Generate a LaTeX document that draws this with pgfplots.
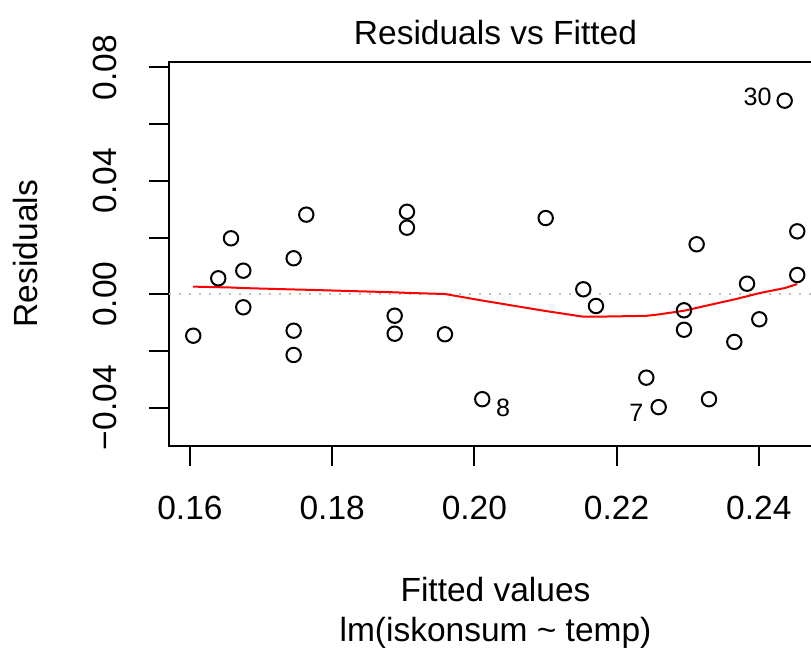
\documentclass[border=0pt]{standalone}
\usepackage{fontspec}
\setmainfont{Liberation Sans}
\usepackage{pgfplots}
\pgfplotsset{compat=1.18}
\newcommand\rf{\fontsize{16.75}{20}\selectfont}
\newcommand\idf{\fontsize{12.56}{15}\selectfont}
\definecolor{rgray}{HTML}{BEBEBE}
\begin{document}
\begin{tikzpicture}
\begin{axis}[
  at={(0,0)}, anchor=south west,
  scale only axis, width=326.5pt, height=192pt,
  xmin=0.15705, xmax=0.24889, ymin=-0.0534, ymax=0.08205,
  axis line style={line width=1pt},
  tick style={line width=1pt, black},
  tick align=outside, major tick length=10pt,
  xtick pos=left, ytick pos=left,
  scaled x ticks=false, scaled y ticks=false,
  xtick={0.16,0.18,0.20,0.22,0.24},
  xticklabels={0.16,0.18,0.20,0.22,0.24},
  ytick={-0.04,-0.02,0,0.02,0.04,0.06,0.08},
  yticklabels={−0.04,,0.00,,0.04,,0.08},
  xticklabel style={font=\rf, anchor=base, yshift=-27.15pt},
  yticklabel style={font=\rf, rotate=90, anchor=base},
  yticklabel shift=16pt,
  xlabel={Fitted values},
  xlabel style={font=\rf, at={([yshift=-78pt]axis description cs:0.5,0)}, anchor=base},
  ylabel={Residuals},
  ylabel style={font=\rf, at={([xshift=-65.5pt]axis description cs:0,0.5)}, anchor=base},
  title={Residuals vs Fitted},
  title style={font=\rf, at={([yshift=10.15pt]axis description cs:0.5,1)}, anchor=base, yshift=-7.5pt},
]
\addplot[rgray, line width=0.9pt, dash pattern=on 1.25pt off 3.75pt] coordinates {(0.15,0) (0.26,0)};
\addplot[only marks, mark=o, mark size=3.6pt, mark options={line width=1pt, black}] table {
x y
0.16046 -0.0146
0.16398 0.00564
0.16577 0.01975
0.16750 0.00833
0.16750 -0.00459
0.17458 0.0127
0.17458 -0.01284
0.17458 -0.0214
0.17636 0.0281
0.18879 -0.00755
0.18879 -0.0139
0.19052 0.0291
0.19052 0.0235
0.19586 -0.0141
0.20111 -0.0370
0.21003 0.0269
0.21532 0.00176
0.21710 -0.00413
0.22418 -0.0294
0.22592 -0.0398
0.22948 -0.00565
0.22948 -0.0125
0.23126 0.01764
0.23300 -0.0370
0.23656 -0.0168
0.23835 0.00374
0.24007 -0.00882
0.24364 0.0683
0.24541 0.0222
0.24541 0.0068
};
\addplot[red, line width=1pt, no marks] table {
x y
0.16046 0.0027
0.16398 0.0025
0.16577 0.0024
0.16750 0.0022
0.17458 0.0017
0.17636 0.0016
0.18879 0.0007
0.19052 0.0005
0.19586 0.0001
0.20111 -0.0022
0.21003 -0.0059
0.21532 -0.0079
0.21710 -0.0079
0.22418 -0.0076
0.22592 -0.0071
0.22948 -0.0058
0.23126 -0.0048
0.23300 -0.0038
0.23656 -0.0018
0.23835 -0.0007
0.24007 0.0004
0.24364 0.0022
0.24541 0.0036
};
\node[font=\idf, inner sep=0pt, anchor=east, xshift=-6.3pt, yshift=2pt] at (axis cs:0.24364,0.0683) {30};
\node[font=\idf, inner sep=0pt, anchor=west, xshift=6.7pt, yshift=-4.5pt] at (axis cs:0.20111,-0.0370) {8};
\node[font=\idf, inner sep=0pt, anchor=east, xshift=-7.5pt, yshift=-3pt] at (axis cs:0.22592,-0.0398) {7};
\end{axis}
\node[font=\rf, anchor=base] at (163.25pt,-98pt) {lm(iskonsum \textasciitilde{} temp)};
\pgfresetboundingbox
\useasboundingbox (-84.5pt,-102.65pt) rectangle (321pt,222.85pt);
\end{tikzpicture}
\end{document}
